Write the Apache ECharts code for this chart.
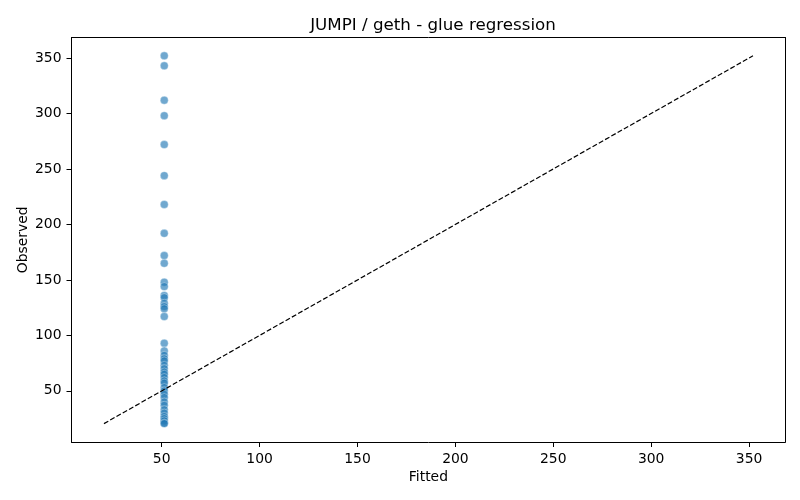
<!DOCTYPE html>
<html lang="en">

<head>
    <meta charset="UTF-8">
    <title>JUMPI / geth - glue regression</title>
    <script src="https://cdn.jsdelivr.net/npm/echarts@6/dist/echarts.min.js"></script>
    <style>
        * {
            margin: 0;
            padding: 0;
        }

        #chart {
            width: 800px;
            height: 500px;
        }
    </style>
</head>

<body>
    <div id="chart"></div>
    <script>
        const fitted = 51.3
        const observed = [352, 343, 312, 298, 272, 244, 218, 192, 172, 165,
            148, 144, 136, 134, 129, 126, 124, 117,
            93, 86, 82, 79, 77, 73, 70, 67, 65, 62, 59, 57, 53, 50, 47, 44,
            40, 37, 33, 30, 27, 25, 23, 21, 20.5]
        // identity line ends (min / max of the data)
        const lineEnds = [20.5, 352]
        const tickValues = [50, 100, 150, 200, 250, 300, 350]
        const axisMin = 3.93
        const axisMax = 368.5

        const font = 'DejaVu Sans'

        const chart = echarts.init(document.querySelector('#chart'))

        const axisCommon = {
            type: 'value',
            min: axisMin,
            max: axisMax,
            nameLocation: 'middle',
            nameMoveOverlap: false,
            nameTextStyle: { fontFamily: font, fontSize: 13.9, color: '#000' },
            axisLine: { show: true, onZero: false, lineStyle: { color: '#000', width: 1 } },
            axisTick: { show: true, inside: false, length: 5, lineStyle: { color: '#000' }, customValues: tickValues },
            axisLabel: { fontFamily: font, fontSize: 13.9, color: '#000', margin: 10, customValues: tickValues },
            splitLine: { show: false }
        }

        // top / right frame lines
        const frameAxis = {
            type: 'value',
            min: axisMin,
            max: axisMax,
            show: true,
            axisLine: { show: true, onZero: false, lineStyle: { color: '#000', width: 1 } },
            axisTick: { show: false },
            axisLabel: { show: false },
            splitLine: { show: false }
        }

        const option = {
            animation: false,
            title: {
                text: 'JUMPI / geth - glue regression',
                left: 428,
                top: 12,
                textAlign: 'center',
                textStyle: { fontFamily: font, fontSize: 16.7, fontWeight: 'normal', color: '#000' }
            },
            grid: {
                left: 71.5,
                right: 14.7,
                top: 37.5,
                bottom: 58
            },
            xAxis: [
                Object.assign({}, axisCommon, { name: 'Fitted', nameGap: 28 }),
                Object.assign({}, frameAxis, { position: 'top' })
            ],
            yAxis: [
                Object.assign({}, axisCommon, { name: 'Observed', nameGap: 41 }),
                Object.assign({}, frameAxis, { position: 'right' })
            ],
            series: [{
                type: 'scatter',
                symbolSize: 8,
                itemStyle: { color: 'rgba(31,119,180,0.8)', borderColor: '#fff', borderWidth: 0.4 },
                data: observed.map(v => [fitted, v])
            }, {
                type: 'line',
                showSymbol: false,
                silent: true,
                lineStyle: { color: '#000', width: 1.2, type: [5, 2.2] },
                data: lineEnds.map(v => [v, v])
            }]
        }

        chart.setOption(option)
    </script>
</body>

</html>
